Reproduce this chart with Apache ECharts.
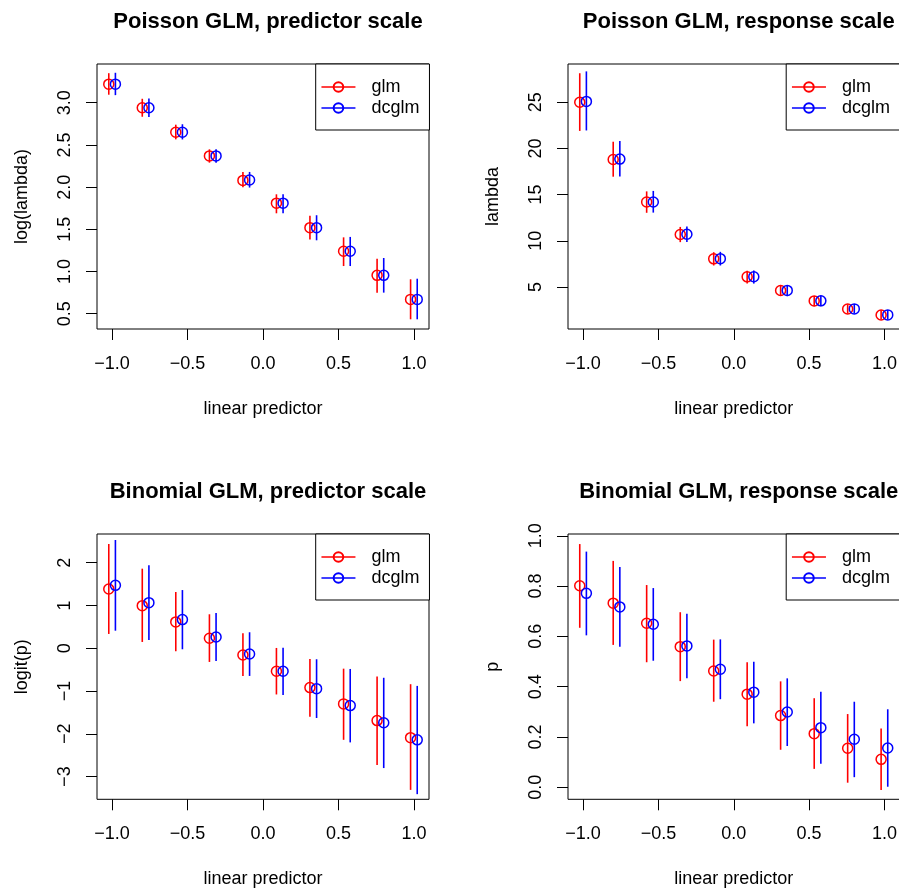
<!DOCTYPE html>
<html>
<head>
<meta charset="utf-8">
<script src="https://cdn.jsdelivr.net/npm/echarts@6/dist/echarts.min.js"></script>
<style>html,body{margin:0;padding:0;background:#fff}#c{width:899px;height:891px}</style>
</head>
<body>
<div id="c"></div>
<script>
// ---- data ----
const xBase = [-1, -0.778, -0.556, -0.333, -0.111, 0.111, 0.333, 0.556, 0.778, 1];
const xTicks = [-1, -0.5, 0, 0.5, 1];

// Poisson GLM, predictor scale
const ppGlmFit = [3.22, 2.94, 2.65, 2.37, 2.08, 1.81, 1.52, 1.24, 0.955, 0.67];
const ppGlmLo  = [3.095, 2.834, 2.566, 2.29, 1.998, 1.69, 1.38, 1.065, 0.75, 0.434];
const ppGlmHi  = [3.35, 3.047, 2.74, 2.448, 2.179, 1.915, 1.66, 1.405, 1.152, 0.908];
const ppDcFit  = [3.22, 2.94, 2.65, 2.37, 2.085, 1.81, 1.52, 1.24, 0.955, 0.67];
const ppDcLo   = [3.09, 2.83, 2.565, 2.29, 1.995, 1.69, 1.37, 1.065, 0.75, 0.434];
const ppDcHi   = [3.355, 3.05, 2.745, 2.45, 2.18, 1.915, 1.667, 1.41, 1.16, 0.915];
const ppTicks  = [0.5, 1.0, 1.5, 2.0, 2.5, 3.0];

// Poisson GLM, response scale
const prGlmFit = [25.0, 18.8, 14.2, 10.68, 8.04, 6.09, 4.61, 3.48, 2.61, 1.96];
const prGlmLo  = [21.9, 16.94, 13.03, 9.85, 7.32, 5.36, 4.02, 2.91, 2.11, 1.46];
const prGlmHi  = [28.15, 20.73, 15.35, 11.5, 8.76, 6.74, 5.18, 4.02, 3.12, 2.47];
const prDcFit  = [25.1, 18.85, 14.2, 10.7, 8.06, 6.1, 4.62, 3.49, 2.62, 1.97];
const prDcLo   = [21.95, 16.95, 13.05, 9.86, 7.32, 5.36, 4.0, 2.9, 2.11, 1.46];
const prDcHi   = [28.35, 20.8, 15.4, 11.55, 8.8, 6.78, 5.2, 4.05, 3.15, 2.5];
const prTicks  = [5, 10, 15, 20, 25];

// Binomial GLM, predictor scale
const bpGlmFit = [1.385, 0.996, 0.615, 0.233, -0.157, -0.537, -0.92, -1.30, -1.69, -2.09];
const bpGlmLo  = [0.334, 0.147, -0.07, -0.32, -0.647, -1.08, -1.6, -2.14, -2.73, -3.31];
const bpGlmHi  = [2.437, 1.86, 1.315, 0.794, 0.35, 0.007, -0.25, -0.477, -0.66, -0.84];
const bpDcFit  = [1.47, 1.065, 0.67, 0.264, -0.133, -0.537, -0.944, -1.34, -1.74, -2.14];
const bpDcLo   = [0.41, 0.194, -0.024, -0.297, -0.647, -1.09, -1.63, -2.2, -2.80, -3.41];
const bpDcHi   = [2.53, 1.94, 1.36, 0.825, 0.374, 0.014, -0.257, -0.484, -0.69, -0.88];
const bpTicks  = [-3, -2, -1, 0, 1, 2];

// Binomial GLM, response scale
const brGlmFit = [0.801, 0.732, 0.652, 0.559, 0.462, 0.370, 0.285, 0.213, 0.155, 0.111];
const brGlmLo  = [0.634, 0.566, 0.497, 0.422, 0.34, 0.242, 0.149, 0.073, 0.018, -0.011];
const brGlmHi  = [0.967, 0.90, 0.804, 0.696, 0.587, 0.497, 0.421, 0.354, 0.291, 0.234];
const brDcFit  = [0.771, 0.717, 0.648, 0.562, 0.469, 0.378, 0.299, 0.237, 0.191, 0.156];
const brDcLo   = [0.604, 0.559, 0.503, 0.433, 0.35, 0.254, 0.164, 0.093, 0.04, 0.002];
const brDcHi   = [0.937, 0.876, 0.792, 0.690, 0.588, 0.499, 0.433, 0.38, 0.34, 0.31];
const brTicks  = [0, 0.2, 0.4, 0.6, 0.8, 1.0];

const titles = ['Poisson GLM, predictor scale', 'Poisson GLM, response scale',
                'Binomial GLM, predictor scale', 'Binomial GLM, response scale'];
const yNames = ['log(lambda)', 'lambda', 'logit(p)', 'p'];
const xName = 'linear predictor';
const seriesNames = ['glm', 'dcglm'];

// ---- layout / style ----
const FONT = '"Liberation Sans", Arial, Helvetica, sans-serif';
const RED = '#FF0000', BLUE = '#0000FF';
const dodge = 0.022;
const panels = [
  {left: 97,  top: 64,  w: 332,   h: 265, ymin: 0.319, ymax: 3.459, ticks: ppTicks, dec: 1,
   g: [ppGlmFit, ppGlmLo, ppGlmHi], d: [ppDcFit, ppDcLo, ppDcHi]},
  {left: 568, top: 64,  w: 331.5, h: 265, ymin: 0.44,  ymax: 29.15, ticks: prTicks, dec: 0,
   g: [prGlmFit, prGlmLo, prGlmHi], d: [prDcFit, prDcLo, prDcHi]},
  {left: 97,  top: 534, w: 332,   h: 265.3, ymin: -3.53, ymax: 2.67, ticks: bpTicks, dec: 0,
   g: [bpGlmFit, bpGlmLo, bpGlmHi], d: [bpDcFit, bpDcLo, bpDcHi]},
  {left: 568, top: 534, w: 331.5, h: 265.3, ymin: -0.048, ymax: 1.007, ticks: brTicks, dec: 1,
   g: [brGlmFit, brGlmLo, brGlmHi], d: [brDcFit, brDcLo, brDcHi]}
];

function fmt(v, dec) {
  const s = Math.abs(v).toFixed(dec);
  return (v < 0 ? '\u2212' : '') + s;
}

const grid = [], xAxis = [], yAxis = [], series = [], title = [], legend = [];
panels.forEach((p, i) => {
  grid.push({left: p.left, top: p.top, width: p.w, height: p.h, show: true,
    borderColor: '#000', borderWidth: 1, backgroundColor: 'transparent',
    containLabel: false, outerBoundsMode: 'none'});
  xAxis.push({type: 'value', gridIndex: i, min: -1.1, max: 1.1, position: 'bottom',
    axisLine: {show: false, onZero: false}, splitLine: {show: false},
    axisTick: {show: true, inside: false, length: 11, customValues: xTicks,
      lineStyle: {color: '#000', width: 1}},
    axisLabel: {show: true, customValues: xTicks, margin: 26, color: '#000',
      fontSize: 18, fontFamily: FONT, formatter: v => fmt(v, 1)},
    name: xName, nameLocation: 'middle', nameGap: 71,
    nameTextStyle: {color: '#000', fontSize: 18, fontFamily: FONT}});
  yAxis.push({type: 'value', gridIndex: i, min: p.ymin, max: p.ymax, position: 'left',
    axisLine: {show: false, onZero: false}, splitLine: {show: false},
    axisTick: {show: true, inside: false, length: 11, customValues: p.ticks,
      lineStyle: {color: '#000', width: 1}},
    axisLabel: {show: true, customValues: p.ticks, margin: 23, rotate: 90, color: '#000',
      fontSize: 18, fontFamily: FONT, formatter: v => fmt(v, p.dec)},
    name: yNames[i], nameLocation: 'middle', nameGap: 66,
    nameTextStyle: {color: '#000', fontSize: 18, fontFamily: FONT}});
  title.push({text: titles[i], left: p.left + p.w / 2, top: p.top - 58, textAlign: 'center',
    textStyle: {color: '#000', fontSize: 22, fontWeight: 'bold', fontFamily: FONT}});
  legend.push({orient: 'vertical', left: p.left + p.w - 113.3, top: p.top,
    data: seriesNames, selectedMode: false, backgroundColor: '#fff',
    borderColor: '#000', borderWidth: 1, borderRadius: 0,
    padding: [14, 10, 13, 5], itemGap: 3, itemWidth: 34, itemHeight: 12,
    lineStyle: {width: 1.5, opacity: 1, type: 'solid'},
    textStyle: {color: '#000', fontSize: 18, fontFamily: FONT, lineHeight: 18, padding: [0, 0, 0, 11]}});

  [[p.g, RED, -dodge, seriesNames[0]], [p.d, BLUE, dodge, seriesNames[1]]].forEach(([arr, col, off, nm]) => {
    const ci = xBase.map((x, k) => [x + off, arr[1][k], arr[2][k]]);
    series.push({type: 'custom', name: nm + '_ci', xAxisIndex: i, yAxisIndex: i,
      data: ci, silent: true, animation: false,
      renderItem: (params, api) => {
        const a = api.coord([api.value(0), api.value(1)]);
        const b = api.coord([api.value(0), api.value(2)]);
        return {type: 'line', shape: {x1: a[0], y1: a[1], x2: b[0], y2: b[1]},
          style: {stroke: col, lineWidth: 1.6}};
      }});
    series.push({type: 'line', name: nm, xAxisIndex: i, yAxisIndex: i,
      data: xBase.map((x, k) => [x + off, arr[0][k]]),
      symbol: 'circle', symbolSize: 10, showSymbol: true, silent: true, animation: false,
      itemStyle: {color: 'rgba(0,0,0,0)', borderColor: col, borderWidth: 1.5},
      lineStyle: {color: col, width: 1.5, opacity: 0},
      emphasis: {disabled: true}});
  });
});

const chart = echarts.init(document.getElementById('c'), null, {renderer: 'canvas'});
chart.setOption({animation: false, backgroundColor: '#fff', tooltip: {show: false},
  grid, xAxis, yAxis, series, title, legend});
</script>
</body>
</html>
